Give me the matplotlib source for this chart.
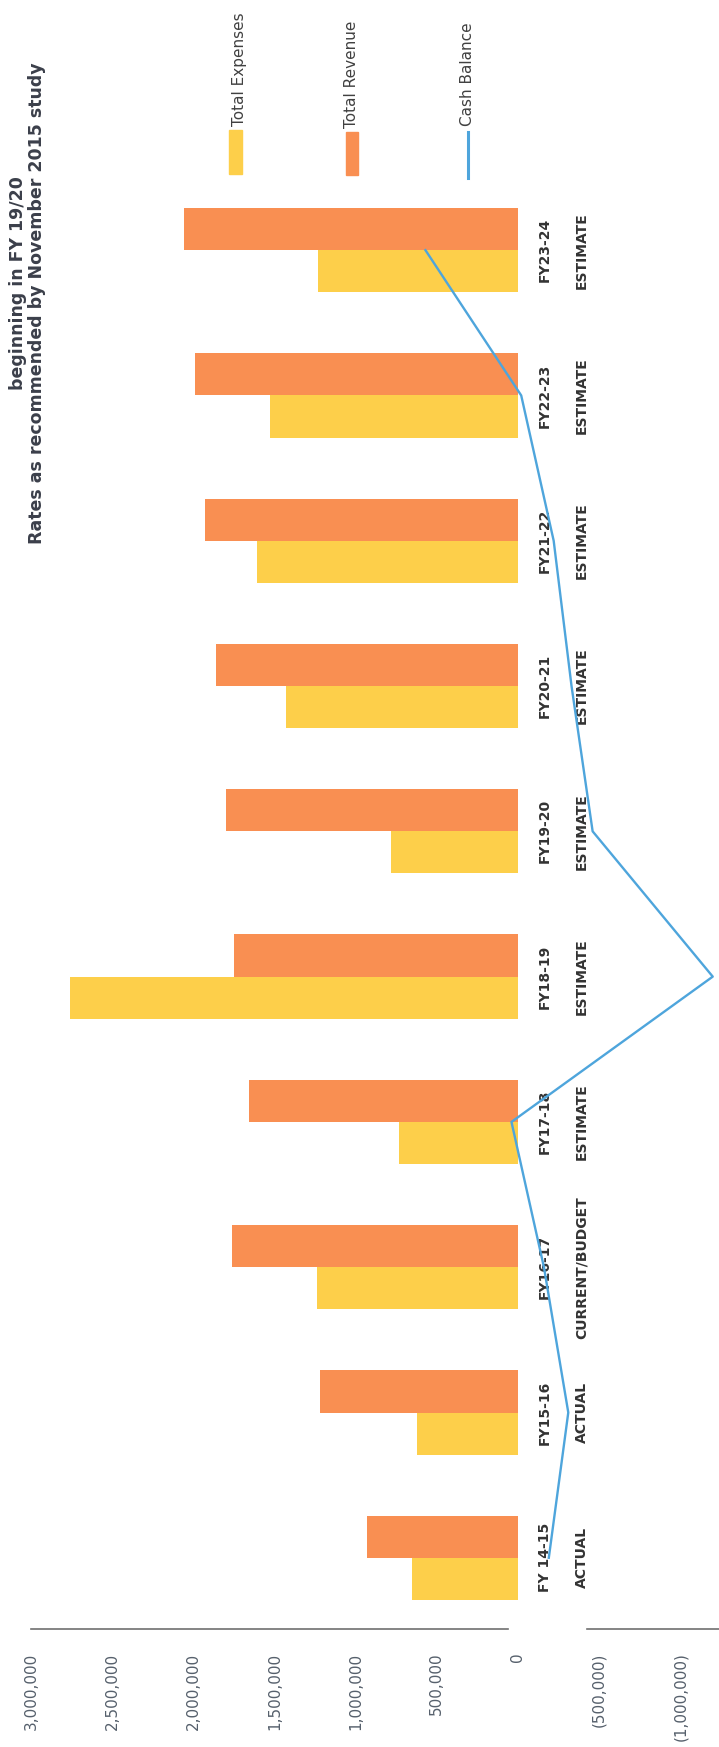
import matplotlib
matplotlib.use("Agg")
import matplotlib.pyplot as plt
from matplotlib.patches import Rectangle
from matplotlib.lines import Line2D

# fiscal years and budget stage
years = ["FY 14-15", "FY15-16", "FY16-17", "FY17-18", "FY18-19",
         "FY19-20", "FY20-21", "FY21-22", "FY22-23", "FY23-24"]
stages = ["ACTUAL", "ACTUAL", "CURRENT/BUDGET", "ESTIMATE", "ESTIMATE",
          "ESTIMATE", "ESTIMATE", "ESTIMATE", "ESTIMATE", "ESTIMATE"]

# dollars
expenses = [650000, 620000, 1240000, 730000, 2760000,
            780000, 1430000, 1610000, 1530000, 1230000]
revenue = [930000, 1220000, 1760000, 1660000, 1750000,
           1800000, 1860000, 1930000, 1990000, 2060000]
cash = [-190000, -310000, -160000, 40000, -1200000,
        -460000, -330000, -220000, -20000, 570000]

tick_values = [3000000, 2500000, 2000000, 1500000, 1000000, 500000, 0,
               -500000, -1000000]
tick_labels = ["3,000,000", "2,500,000", "2,000,000", "1,500,000", "1,000,000",
               "500,000", "0", "(500,000)", "(1,000,000)"]

yellow = "#fdcf4a"
orange = "#f98f52"
blue = "#4ea5dc"

W, H = 719, 1747
fig = plt.figure(figsize=(W / 100, H / 100), dpi=100)

# page is turned sideways: value axis runs right-to-left, years bottom-to-top
left_px, right_px, bottom_px, top_px = 31, 719, 1629, 177.5
ax = fig.add_axes([left_px / W, 1 - bottom_px / H,
                   (right_px - left_px) / W, (bottom_px - top_px) / H])

pos = list(range(len(years)))
bh = 0.29
ax.barh([p - bh / 2 for p in pos], expenses, height=bh, color=yellow, zorder=2)
ax.barh([p + bh / 2 for p in pos], revenue, height=bh, color=orange, zorder=2)
ax.plot(cash, pos, color=blue, lw=1.7, zorder=6, clip_on=False)

ax.set_xlim(3000000, -1238500)
ax.set_ylim(-0.49, 9.5)

for s in ax.spines.values():
    s.set_visible(False)
ax.axhline(-0.49, xmin=0, xmax=0.694, color="#707070", lw=1.2, clip_on=False)
ax.axhline(-0.49, xmin=0.808, xmax=1, color="#707070", lw=1.2, clip_on=False)

ax.set_yticks([])
ax.set_xticks(tick_values)
ax.set_xticklabels(tick_labels, rotation=90, fontsize=11, color="#56606c")
ax.tick_params(axis="x", length=0, pad=17)

for p, fy, st in zip(pos, years, stages):
    ax.annotate(fy, xy=(0, p), xytext=(27, 0), textcoords="offset pixels",
                rotation=90, ha="center", va="center", fontsize=10,
                fontweight="bold", color="#333333", zorder=3)
    ax.annotate(st, xy=(0, p), xytext=(64, 0), textcoords="offset pixels",
                rotation=90, ha="center", va="center", fontsize=10,
                fontweight="bold", color="#333333", zorder=3)

# titles along the left edge
fig.text(18 / W, 1 - 283 / H, "beginning in FY 19/20", rotation=90,
         ha="center", va="center", fontsize=12.5, fontweight="bold",
         color="#3b3f4a")
fig.text(37 / W, 1 - 303 / H, "Rates as recommended by November 2015 study",
         rotation=90, ha="center", va="center", fontsize=12.5,
         fontweight="bold", color="#3b3f4a")

# legend across the top
fig.add_artist(Rectangle(((235.5 - 6.5) / W, 1 - 174 / H), 13 / W, 44 / H,
                         transform=fig.transFigure, color=yellow))
fig.text(239 / W, 1 - 126 / H, "Total Expenses", rotation=90, ha="center",
         va="bottom", fontsize=11, color="#404040")
fig.add_artist(Rectangle(((352 - 6) / W, 1 - 175 / H), 12 / W, 43 / H,
                         transform=fig.transFigure, color=orange))
fig.text(352 / W, 1 - 128 / H, "Total Revenue", rotation=90, ha="center",
         va="bottom", fontsize=11, color="#404040")
fig.add_artist(Line2D([468 / W, 468 / W], [1 - 178 / H, 1 - 132 / H],
                      transform=fig.transFigure, color=blue, lw=2.2))
fig.text(468 / W, 1 - 126 / H, "Cash Balance", rotation=90, ha="center",
         va="bottom", fontsize=11, color="#404040")

fig.savefig("out.png", dpi=100)
